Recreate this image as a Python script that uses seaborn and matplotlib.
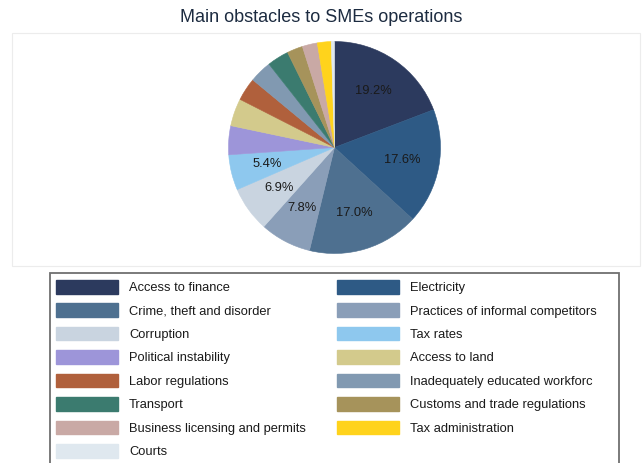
import matplotlib
matplotlib.use('Agg')
import matplotlib.pyplot as plt
import seaborn as sns
from matplotlib.patches import Rectangle, Patch

# Share of firms naming each obstacle (%), in pie order (clockwise from top)
obstacles = [
    'Access to finance', 'Electricity', 'Crime, theft and disorder',
    'Practices of informal competitors', 'Corruption', 'Tax rates',
    'Political instability', 'Access to land', 'Labor regulations',
    'Inadequately educated workforc', 'Transport', 'Customs and trade regulations',
    'Business licensing and permits', 'Tax administration', 'Courts',
]
shares = [19.2, 17.6, 17.0, 7.8, 6.9, 5.4, 4.4, 4.2, 3.5, 3.4, 3.3, 2.4, 2.3, 2.1, 0.5]
colors = [
    '#2c3a5e', '#2e5a85', '#4e7090', '#8a9eb8', '#c9d4e0', '#8ec8ee',
    '#9d95d9', '#d3ca8c', '#b0603c', '#8199b1', '#3b7b6f', '#a6935b',
    '#c9a9a5', '#ffd31c', '#dfe8ef',
]

sns.set_theme(style='white')
plt.rcParams['font.family'] = ['Liberation Sans', 'DejaVu Sans']

W, H = 643, 463
fig = plt.figure(figsize=(W / 100, H / 100), dpi=100)
fig.patch.set_facecolor('white')

# faint plot region frame, kept behind the pie
fig.add_artist(Rectangle((12 / W, 1 - 266 / H), 628 / W, 233 / H,
                         transform=fig.transFigure, facecolor='white',
                         edgecolor='#ececec', linewidth=0.8, zorder=-5))

fig.text(0.5, 1 - 18 / H, 'Main obstacles to SMEs operations',
         ha='center', va='center', fontsize=13, color='#1c2b40')

cx, cy, r = 334.5, 147.5, 106
ax = fig.add_axes([(cx - r) / W, 1 - (cy + r) / H, 2 * r / W, 2 * r / H])
ax.set_zorder(2)
ax.patch.set_alpha(0)


def fmt_pct(p):
    return f'{p:.1f}%' if p >= 5 else ''


wedges, texts, autotexts = ax.pie(
    shares, colors=colors, startangle=90, counterclock=False,
    autopct=fmt_pct, pctdistance=0.65,
    wedgeprops=dict(linewidth=0.4),
    textprops=dict(fontsize=9.3, color='#1a1a1a'))
for w, c in zip(wedges, colors):
    w.set_edgecolor(c)
ax.set_xlim(-1, 1)
ax.set_ylim(-1, 1)
ax.set_aspect('equal')
ax.axis('off')

# legend frame (bottom runs past the figure edge)
fig.add_artist(Rectangle((50 / W, -0.05), 569 / W, 1 - 273 / H + 0.05,
                         transform=fig.transFigure, facecolor='white',
                         edgecolor='#707070', linewidth=1.3, zorder=-5))

# row-major ordering for a two column legend
order = list(range(0, len(obstacles), 2)) + list(range(1, len(obstacles), 2))
handles = [Patch(facecolor=colors[i], edgecolor=colors[i]) for i in order]
labels = [obstacles[i] for i in order]
fig.legend(handles, labels, ncol=2, loc='upper left',
           bbox_to_anchor=(56 / W, 1 - 280 / H), frameon=False,
           fontsize=9.3, handlelength=4.8, handleheight=1.24,
           handletextpad=0.85, labelspacing=0.72, columnspacing=2.4,
           borderpad=0, borderaxespad=0, labelcolor='#1a1a1a')

fig.savefig('out.png', dpi=100)
